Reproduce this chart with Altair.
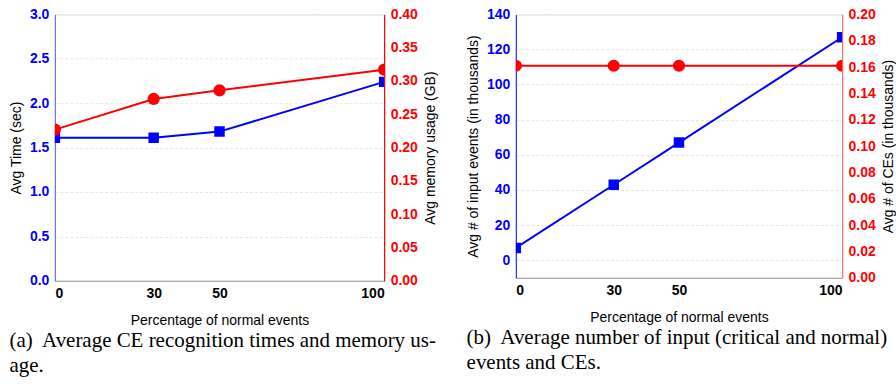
import altair as alt
import pandas as pd

# ---- data ----
pct = [0, 30, 50, 100]
time_sec = [1.61, 1.61, 1.68, 2.24]
mem_gb = [0.227, 0.273, 0.286, 0.317]
input_k = [7, 43, 67, 127]
ces_k = [0.161, 0.161, 0.161, 0.161]

x_ticks = [0, 30, 50, 100]
time_ticks = [0, 0.5, 1.0, 1.5, 2.0, 2.5, 3.0]
mem_ticks = [0, 0.05, 0.10, 0.15, 0.20, 0.25, 0.30, 0.35, 0.40]
input_ticks = [0, 20, 40, 60, 80, 100, 120, 140]
ces_ticks = [0, 0.02, 0.04, 0.06, 0.08, 0.10, 0.12, 0.14, 0.16, 0.18, 0.20]

caption_a = ["(a)\u00a0 Average CE recognition times and memory us-", "age."]
caption_b = ["(b)\u00a0 Average number of input (critical and normal)", "events and CEs."]

BLUE = "#0000ff"
RED = "#ff0000"
SANS = "Liberation Sans"
SERIF = "Liberation Serif"

df_a = pd.DataFrame({"pct": pct, "time": time_sec, "mem": mem_gb})
df_b = pd.DataFrame({"pct": pct, "inp": input_k, "ces": ces_k})


def x_enc():
    return alt.X(
        "pct:Q",
        scale=alt.Scale(domain=[0, 100], nice=False, zero=False),
        axis=alt.Axis(
            values=x_ticks,
            title="Percentage of normal events",
            titleFont=SANS,
            titleFontSize=14,
            titleFontWeight="normal",
            titleColor="black",
            labelFont=SANS,
            labelFontWeight="bold",
            labelColor="black",
            labelFontSize=14,
            labelPadding=6,
            titlePadding=13,
            ticks=False,
            grid=False,
            domainColor="#999999",
        ),
    )


def y_axis(title, values, fmt, color, domain_color, orient, grid):
    kw = {}
    if orient == "right":
        kw["titleBaseline"] = "top"
    return alt.Axis(
        title=title,
        titleFont=SANS,
        titleFontSize=14,
        titleFontWeight="normal",
        titleColor="black",
        titleAngle=270,
        values=values,
        format=fmt,
        orient=orient,
        labelFont=SANS,
        labelColor=color,
        labelFontWeight="bold",
        labelFontSize=14,
        labelPadding=6,
        titlePadding=6,
        ticks=False,
        domainColor=domain_color,
        domainWidth=1.2,
        grid=grid,
        gridColor="#e6e6e6",
        gridDash=[3, 2],
        **kw,
    )


def panel(df, lcol, ldom, lticks, lfmt, ltitle, ldomcol,
          rcol, rdom, rticks, rfmt, rtitle, rdomcol, w, h, caption):
    base = alt.Chart(df)
    yl = alt.Y(
        f"{lcol}:Q",
        scale=alt.Scale(domain=ldom, nice=False, zero=False),
        axis=y_axis(ltitle, lticks, lfmt, BLUE, ldomcol, "left", True),
    )
    yr = alt.Y(
        f"{rcol}:Q",
        scale=alt.Scale(domain=rdom, nice=False, zero=False),
        axis=y_axis(rtitle, rticks, rfmt, RED, rdomcol, "right", False),
    )
    blue = alt.layer(
        base.mark_line(color=BLUE, strokeWidth=2, clip=True).encode(x=x_enc(), y=yl),
        base.mark_point(shape="square", filled=True, color=BLUE, size=110, opacity=1, clip=True).encode(x=x_enc(), y=yl),
    )
    red = alt.layer(
        base.mark_line(color=RED, strokeWidth=2, clip=True).encode(x=x_enc(), y=yr),
        base.mark_point(shape="circle", filled=True, color=RED, size=150, opacity=1, clip=True).encode(x=x_enc(), y=yr),
    )
    return (
        alt.layer(blue, red)
        .resolve_scale(y="independent")
        .properties(
            width=w,
            height=h,
            title=alt.TitleParams(
                text=caption,
                orient="bottom",
                anchor="start",
                font=SERIF,
                fontSize=21,
                fontWeight="normal",
                color="black",
                lineHeight=25,
                offset=2,
                frame="bounds",
            ),
        )
    )


chart_a = panel(df_a, "time", [0, 3], time_ticks, ".1f", "Avg Time (sec)", "#7070ff",
                "mem", [0, 0.4], mem_ticks, ".2f", "Avg memory usage (GB)", RED,
                330, 267, caption_a)
chart_b = panel(df_b, "inp", [-10, 140], input_ticks, "d", "Avg # of input events (in thousands)", "#3030ff",
                "ces", [0, 0.2], ces_ticks, ".2f", "Avg # of CEs (in thousands)", "#ff7070",
                327, 264, caption_b)

chart = (
    alt.hconcat(chart_a, chart_b, spacing=28)
    .properties(padding={"left": 9, "top": 6, "right": 0, "bottom": 0})
    .configure_view(stroke="#999999", strokeWidth=1)
    .configure(background="white")
)

chart.save("out.html", embed_options={"renderer": "svg", "actions": False})
